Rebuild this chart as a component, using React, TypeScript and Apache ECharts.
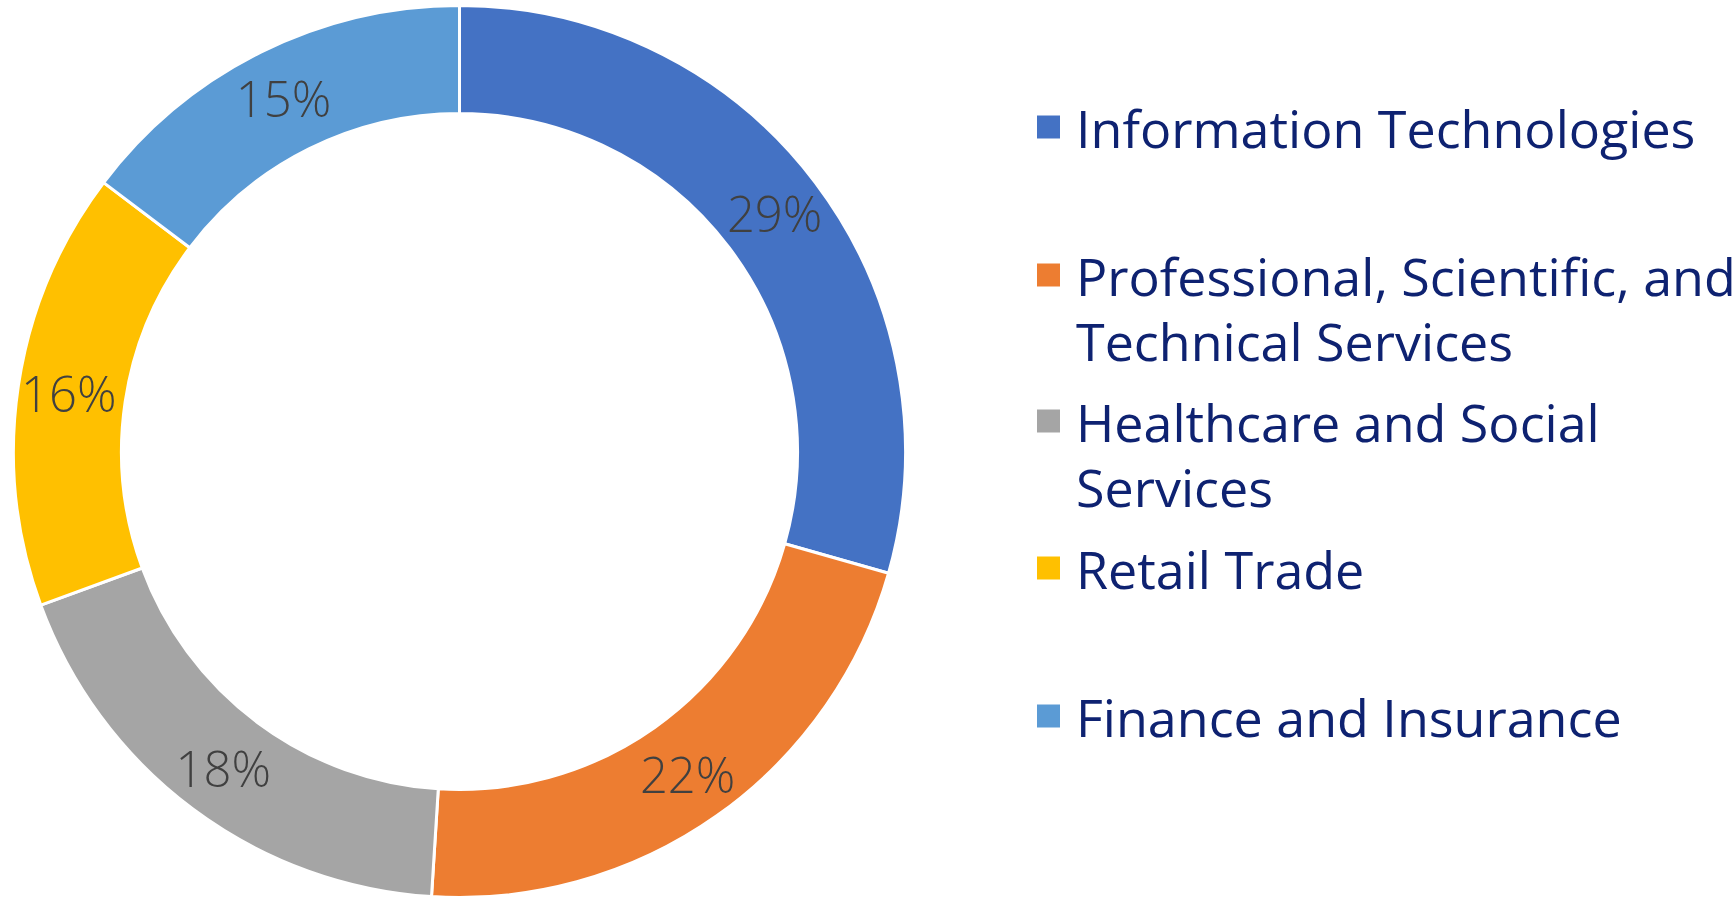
import React, { useEffect, useRef } from "react";
import * as echarts from "echarts";

const categories = [
  "Information Technologies",
  "Professional, Scientific, and Technical Services",
  "Healthcare and Social Services",
  "Retail Trade",
  "Finance and Insurance",
];
const shares = [29.4, 21.6, 18.4, 15.9, 14.7];
const colors = ["#4472C4", "#ED7D31", "#A5A5A5", "#FFC000", "#5B9BD5"];
const legendLines: Record<string, string[]> = {
  "Information Technologies": ["Information Technologies"],
  "Professional, Scientific, and Technical Services": ["Professional, Scientific, and", "Technical Services"],
  "Healthcare and Social Services": ["Healthcare and Social", "Services"],
  "Retail Trade": ["Retail Trade"],
  "Finance and Insurance": ["Finance and Insurance"],
};
const legendCenters = [127, 275, 421, 568, 716];

export default function App() {
  const ref = useRef<HTMLDivElement>(null);
  useEffect(() => {
    document.body.style.margin = "0";
    const chart = echarts.init(ref.current!, null, { renderer: "svg" });
    const LH = 65;
    const legends = categories.map((name, i) => {
      const lines = legendLines[name];
      const multi = lines.length > 1;
      const blockH = (multi ? 3 : 1) * LH;
      return {
        data: [name],
        orient: "vertical",
        left: 1035,
        top: legendCenters[i] - blockH / 2,
        padding: 0,
        itemWidth: 25,
        itemHeight: 25,
        icon: "rect",
        selectedMode: false,
        formatter: () => (multi ? " \n" + lines.join("\n") : lines[0]),
        textStyle: {
          color: "#0E2271",
          fontFamily: "Open Sans",
          fontSize: 52,
          lineHeight: LH,
          padding: [0, 0, 0, 10],
        },
      };
    });
    chart.setOption({
      animation: false,
      color: colors,
      legend: legends,
      series: [
        {
          type: "pie",
          center: [459.5, 451.5],
          radius: [338, 446],
          startAngle: 90,
          clockwise: true,
          avoidLabelOverlap: false,
          itemStyle: { borderColor: "#ffffff", borderWidth: 3 },
          label: {
            show: true,
            position: "inside",
            color: "#404040",
            fontFamily: "Open Sans",
            fontWeight: 300,
            fontSize: 49,
            formatter: (p: any) => Math.round(p.value) + "%",
          },
          labelLine: { show: false },
          emphasis: { disabled: true },
          data: categories.map((name, i) => ({ name, value: shares[i] })),
        },
      ],
    });
    return () => chart.dispose();
  }, []);
  return <div ref={ref} style={{ width: 1736, height: 897 }} />;
}
